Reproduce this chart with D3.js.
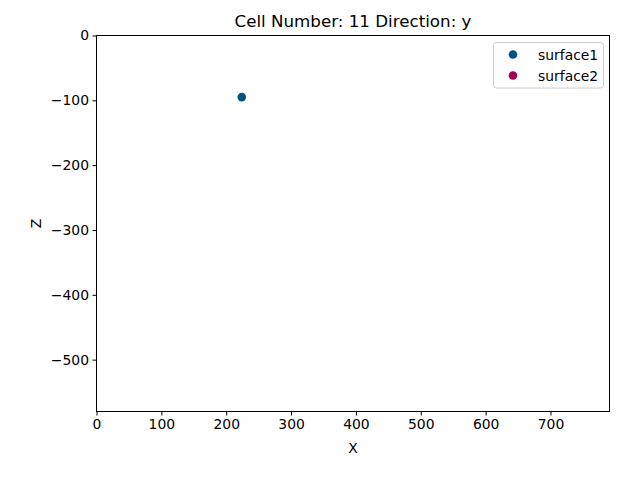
<!DOCTYPE html>
<html><head><meta charset="utf-8">
<script src="https://cdn.jsdelivr.net/npm/d3@7"></script>
<style>body{margin:0;background:#fff}svg{display:block}text{font-family:"DejaVu Sans",sans-serif}</style>
</head><body>
<script>
const title = "Cell Number: 11 Direction: y";
const seriesNames = ["surface1", "surface2"];
const seriesColors = ["#015482", "#9f0052"];
const pointsX = [224];
const pointsZ = [-95];
const pointsSeries = ["surface1"];
const xTicks = [0, 100, 200, 300, 400, 500, 600, 700];
const yTicks = [0, -100, -200, -300, -400, -500];
const xDomain = [0, 791];
const yDomain = [-580, 0];

const W = 640, H = 480;
const m = {l: 96.5, r: 609.5, t: 35.5, b: 411.5};
const svg = d3.select("body").append("svg").attr("width", W).attr("height", H);
const x = d3.scaleLinear().domain(xDomain).range([m.l, m.r]);
const y = d3.scaleLinear().domain(yDomain).range([m.b, m.t]);
const color = d3.scaleOrdinal().domain(seriesNames).range(seriesColors);

const fmt = d => d < 0 ? "\u2212" + Math.abs(d) : String(d);
const xa = svg.append("g").attr("transform", `translate(0,${m.b})`)
  .call(d3.axisBottom(x).tickValues(xTicks).tickFormat(fmt).tickSize(4).tickPadding(3.5));
const ya = svg.append("g").attr("transform", `translate(${m.l},0)`)
  .call(d3.axisLeft(y).tickValues(yTicks).tickFormat(fmt).tickSize(4).tickPadding(3.5));
[xa, ya].forEach(a => {
  a.select(".domain").remove();
  a.selectAll("line").attr("stroke", "#000").attr("stroke-width", 1);
  a.selectAll("text").attr("font-size", 13.9).attr("fill", "#000").attr("font-family", "DejaVu Sans");
});
svg.append("rect").attr("x", m.l).attr("y", m.t).attr("width", m.r - m.l).attr("height", m.b - m.t)
  .attr("fill", "none").attr("stroke", "#000").attr("stroke-width", 1);

svg.append("g").selectAll("circle").data(pointsX.map((v, i) => ({x: v, z: pointsZ[i], s: pointsSeries[i]})))
  .join("circle").attr("cx", d => x(d.x)).attr("cy", d => y(d.z)).attr("r", 4.3).attr("fill", d => color(d.s));

svg.append("text").attr("x", (m.l + m.r) / 2).attr("y", 27).attr("text-anchor", "middle")
  .attr("font-size", 16.7).text(title);
svg.append("text").attr("x", (m.l + m.r) / 2).attr("y", 453).attr("text-anchor", "middle")
  .attr("font-size", 13.9).text("X");
svg.append("text").attr("transform", `translate(41,${(m.t + m.b) / 2}) rotate(-90)`).attr("text-anchor", "middle")
  .attr("font-size", 13.9).text("Z");

const lg = svg.append("g");
lg.append("rect").attr("x", 493.5).attr("y", 42.5).attr("width", 110).attr("height", 45.5).attr("rx", 3)
  .attr("fill", "#fff").attr("fill-opacity", 0.8).attr("stroke", "#ccc").attr("stroke-width", 1);
seriesNames.forEach((n, i) => {
  lg.append("circle").attr("cx", 513).attr("cy", 54.5 + i * 21).attr("r", 4.3).attr("fill", color(n));
  lg.append("text").attr("x", 538).attr("y", 59.5 + i * 21).attr("font-size", 13.9).text(n);
});
</script>
</body></html>
